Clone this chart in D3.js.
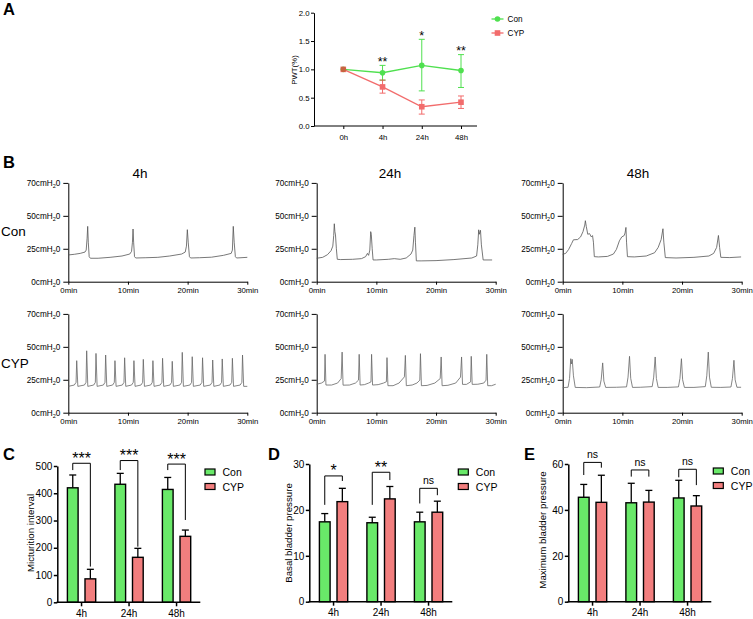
<!DOCTYPE html>
<html><head><meta charset="utf-8">
<script src="https://cdn.jsdelivr.net/npm/d3@7"></script>
<style>body{margin:0;background:#fff} svg{display:block} text{fill:#000}</style>
</head><body><svg id="chart" width="753" height="619"></svg>
<script>
// ---------------- DATA ----------------
// Panel A: PWT (%)
const pwtTimes = ["0h","4h","24h","48h"];
const pwtTicks = [0,0.5,1.0,1.5,2.0];
const pwtCon   = [1.00,0.94,1.07,0.98];
const pwtConLo = [1.00,0.81,0.62,0.68];
const pwtConHi = [1.00,1.07,1.53,1.26];
const pwtCyp   = [1.00,0.69,0.34,0.42];
const pwtCypLo = [1.00,0.58,0.21,0.31];
const pwtCypHi = [1.00,0.81,0.46,0.53];
const pwtSig   = ["","**","*","**"];

// Panel B: cystometry traces [minute, cmH2O]
const traceTitles = ["4h","24h","48h"];
const traceRows = ["Con","CYP"];
const traceTicks = [0,25,50,75];
const traceTickLabels = ["0","25","50","70"];
const traceTimeTicks = [0,10,20,30];
const traceCon4h = [[0,20.3],[1,20.8],[2,21.5],[2.8,22.5],[3.0,24],[3.15,33],[3.25,42],[3.35,30],[3.5,19],[3.7,17.8],[5,17.8],[7,18.5],[9,19.5],[10.3,21],[10.6,23],[10.75,30],[10.85,40],[10.95,30],[11.1,19],[11.3,18],[13,18.2],[15,18.5],[17,19.5],[19,21],[19.6,22.5],[19.8,27],[19.95,39.5],[20.1,30],[20.3,19],[20.5,18],[22,18.2],[24,18.6],[26,20],[27.3,21.5],[27.5,24],[27.65,42],[27.8,30],[28.0,19],[28.2,18],[30,18.5]];
const traceCon24h = [[0,17.8],[1,18.5],[1.8,20.5],[2.4,23.5],[2.7,27],[2.85,35],[2.95,44],[3.05,38],[3.15,35.5],[3.3,25],[3.45,17],[4,16.8],[6,17],[7.5,17.5],[8.2,19],[8.5,21.5],[8.7,20],[8.9,24],[9.05,38],[9.15,36],[9.3,25],[9.45,16.5],[10,16.5],[12,17],[13,17.5],[14,17],[15,18],[15.8,21],[16.1,24],[16.3,35],[16.45,41.4],[16.55,30],[16.7,15.8],[17.5,15.8],[20,16],[23,16.8],[26,18],[26.8,19.5],[27.0,28],[27.15,39.4],[27.25,36],[27.45,39],[27.6,28],[27.9,16.5],[29.4,16.5]];
const traceCon48h = [[0,20.8],[0.5,21.5],[1.0,24.5],[1.5,29],[1.8,31.8],[2.5,32],[3.0,34],[3.4,38],[3.7,43],[3.8,46.3],[3.95,42],[4.2,36],[4.5,36.5],[4.8,34],[5.0,35],[5.15,30],[5.3,19],[6,18.8],[7.5,19.2],[8.5,21],[9.0,24.5],[9.5,31],[9.9,34],[10.3,35],[10.45,37],[10.6,41.2],[10.7,30],[10.85,19],[12,18.8],[14,19.5],[15.4,22],[16,26],[16.5,32],[16.8,40.2],[16.95,30],[17.2,18.3],[19,18],[22,18.5],[24.5,19.5],[25.3,21.5],[25.8,26],[26.1,35.1],[26.3,26],[26.5,18.5],[28,18.3],[29.9,18.8]];
const traceCyp4h = [[0,20],[1.0,21],[1.3,23],[1.41,39.5],[1.6,20],[2.7,21],[2.97,23],[3.08,47],[3.27,20],[4.25,21],[4.53,23],[4.64,45],[4.83,20],[5.87,21],[6.15,23],[6.26,43.8],[6.45,20],[7.43,21],[7.71,23],[7.82,39.5],[8.01,20],[9.05,21],[9.33,23],[9.44,41.7],[9.63,20],[10.6,21],[10.89,23],[11.0,39.5],[11.19,20],[12.18,21],[12.46,23],[12.57,40.5],[12.76,20],[13.8,21],[14.07,23],[14.18,39.5],[14.37,20],[15.4,21],[15.69,23],[15.8,41.3],[15.99,20],[17.03,21],[17.31,23],[17.42,39],[17.61,20],[18.7,21],[18.99,23],[19.1,45.8],[19.29,20],[20.38,21],[20.66,23],[20.77,42.5],[20.96,20],[22.1,21],[22.39,23],[22.5,41.7],[22.69,20],[23.8,21],[24.09,23],[24.2,40],[24.39,20],[25.4,21],[25.69,23],[25.8,40.8],[25.99,20],[27.1,21],[27.39,23],[27.5,41.3],[27.69,20],[28.8,21],[29.09,23],[29.2,43.8],[29.39,20],[30,20]];
const traceCyp24h = [[0,21.6],[0.8,22.5],[1.3,24],[1.4,44.3],[1.55,21],[2.5,21],[3.5,22.5],[4.1,25.9],[4.26,46],[4.42,20.9],[5.5,21],[6.5,22.5],[7.0,24.7],[7.12,44.3],[7.28,21],[8.0,21.3],[8.7,22.5],[9.1,23.4],[9.2,44.3],[9.36,21],[10.3,21.3],[11.2,22.5],[11.68,23.5],[11.78,41.8],[11.94,20.5],[12.8,20.5],[13.8,22.5],[14.7,27.2],[14.86,43.5],[15.02,20.5],[16.0,21],[16.8,22.5],[17.28,24.7],[17.39,44.8],[17.55,20.5],[18.5,20.7],[19.8,22.5],[20.7,25.9],[20.86,42.3],[21.02,20.5],[22.0,20.8],[23.3,22.5],[24.1,27],[24.28,42.3],[24.44,21.5],[25.1,21.5],[25.8,23.4],[25.9,42.8],[26.06,21.5],[27.0,21.6],[28.0,22.5],[28.38,24.7],[28.5,44.3],[28.66,20.5],[29.3,20.5],[30,21.6]];
const traceCyp48h = [[0,19],[0.9,19.3],[1.15,26],[1.35,41],[1.45,37],[1.6,40.5],[1.8,28],[2.1,19.2],[4,19],[6.2,19.5],[6.45,25],[6.7,37.8],[6.9,24],[7.2,19.2],[9,19.3],[10.7,19.6],[10.95,27],[11.2,42.8],[11.4,26],[11.7,19.2],[13,19.3],[15.0,19.8],[15.25,27],[15.5,42.3],[15.7,26],[16.0,19.2],[17.5,19.2],[19.4,19.6],[19.65,26],[19.9,41],[20.1,25],[20.4,19.2],[22,19.2],[23.9,19.8],[24.15,28],[24.4,46],[24.6,27],[24.9,19.3],[26.5,19.2],[28.2,19.5],[28.45,26],[28.7,39.8],[28.9,25],[29.2,19.3],[29.9,19.3]];

// Panels C-E: bar charts
const barGroups = ["4h","24h","48h"];
const barSeries = ["Con","CYP"];
const intervalCon = [420,433,414];
const intervalConErr = [47,40,44];
const intervalCyp = [86,165,242];
const intervalCypErr = [35,33,23];
const intervalTicks = [0,100,200,300,400,500];
const intervalBrTop = [510,520,507];
const intervalBrLeft = [485,485,485];
const intervalBrRight = [131,204,302];
const intervalSig = ["***","***","***"];

const basalCon = [17.4,17.2,17.4];
const basalConErr = [1.8,1.2,2.1];
const basalCyp = [21.8,22.4,19.5];
const basalCypErr = [2.9,2.7,2.4];
const basalTicks = [0,10,20,30];
const basalBrTop = [27.4,28.2,24.7];
const basalBrLeft = [21.1,21.1,21.4];
const basalBrRight = [26.3,26.5,23.2];
const basalSig = ["*","**","ns"];

const maxCon = [45.5,43.1,45.2];
const maxConErr = [5.6,8.5,7.7];
const maxCyp = [43.3,43.4,41.7];
const maxCypErr = [11.8,5.1,4.5];
const maxTicks = [0,20,40,60];
const maxBrTop = [60.7,57.4,57.7];
const maxBrLeft = [55.2,54.5,54.2];
const maxBrRight = [58.4,54.5,50.8];
const maxSig = ["ns","ns","ns"];

// ---------------- STYLE ----------------
const FONT = '"Liberation Sans", Arial, Helvetica, sans-serif';
const GREEN_LINE = "#4fe04f", RED_LINE = "#ee3b3b";
const GREEN_BAR = "#69e969", RED_BAR = "#f27e7e";
const svg = d3.select("#chart").attr("font-family", FONT);

// panel letters
[["A",3,15],["B",3,168],["C",3,460],["D",268,460],["E",524,460]].forEach(([t,x,y]) => {
  svg.append("text").attr("x",x).attr("y",y).attr("font-size",16.5).attr("font-weight","bold").text(t);
});

function styleAxis(g, fs) {
  g.attr("font-size", fs).attr("font-family", FONT);
  g.selectAll("path,line").attr("stroke","#000");
  g.selectAll("text").attr("fill","#000");
}

// ---------------- PANEL A ----------------
(function(){
  const g = svg.append("g");
  const y = d3.scaleLinear([0,2],[126,12.7]);
  const x = d3.scalePoint(pwtTimes,[343.3,461]);
  g.append("g").attr("transform","translate(314,0)")
    .call(d3.axisLeft(y).tickValues(pwtTicks).tickFormat(d3.format(".1f")).tickSize(3).tickPadding(1.5).tickSizeOuter(0))
    .call(a => styleAxis(a, 7.8));
  const xa = g.append("g").attr("transform","translate(0,126)")
    .call(d3.axisBottom(x).tickSize(3).tickPadding(5))
    .call(a => styleAxis(a, 7.8));
  xa.select(".domain").remove();
  g.append("line").attr("x1",314).attr("x2",477).attr("y1",126).attr("y2",126).attr("stroke","#000");
  g.append("text").attr("transform","translate(294,70) rotate(-90)").attr("text-anchor","middle")
    .attr("dominant-baseline","central").attr("font-size",7.8).text("PWT(%)");

  const series = [
    {vals:pwtCon, lo:pwtConLo, hi:pwtConHi, color:GREEN_LINE, shape:"circle", op:1},
    {vals:pwtCyp, lo:pwtCypLo, hi:pwtCypHi, color:RED_LINE, shape:"square", op:0.75}
  ];
  const line = d3.line().x((d,i)=>x(pwtTimes[i])).y(d=>y(d));
  series.forEach(s => {
    const sg = g.append("g").attr("opacity", s.op);
    sg.append("path").datum(s.vals).attr("d", line).attr("fill","none").attr("stroke", s.color).attr("stroke-width",1.3);
    s.vals.forEach((v,i) => {
      if (s.hi[i] === s.lo[i]) return;
      const cx = x(pwtTimes[i]);
      sg.append("line").attr("x1",cx).attr("x2",cx).attr("y1",y(s.lo[i])).attr("y2",y(s.hi[i])).attr("stroke",s.color).attr("stroke-width",1);
      [s.lo[i], s.hi[i]].forEach(e => sg.append("line").attr("x1",cx-3).attr("x2",cx+3).attr("y1",y(e)).attr("y2",y(e)).attr("stroke",s.color).attr("stroke-width",1));
    });
    s.vals.forEach((v,i) => {
      const cx = x(pwtTimes[i]), cy = y(v);
      if (s.shape === "circle") sg.append("circle").attr("cx",cx).attr("cy",cy).attr("r",2.8).attr("fill",s.color);
      else sg.append("rect").attr("x",cx-2.8).attr("y",cy-2.8).attr("width",5.6).attr("height",5.6).attr("fill",s.color);
    });
  });
  pwtSig.forEach((t,i) => {
    if (!t) return;
    g.append("text").attr("x", x(pwtTimes[i])).attr("y", y(pwtConHi[i]) + 0.5).attr("text-anchor","middle")
      .attr("font-size",12.5).text(t);
  });
  // legend
  [["Con",GREEN_LINE,"circle",19,1],["CYP",RED_LINE,"square",33,0.75]].forEach(([name,c,shape,ly,op]) => {
    const lg = g.append("g").attr("opacity",op);
    lg.append("line").attr("x1",491.5).attr("x2",503.5).attr("y1",ly).attr("y2",ly).attr("stroke",c).attr("stroke-width",1.3);
    if (shape === "circle") lg.append("circle").attr("cx",497.5).attr("cy",ly).attr("r",2.8).attr("fill",c);
    else lg.append("rect").attr("x",494.7).attr("y",ly-2.8).attr("width",5.6).attr("height",5.6).attr("fill",c);
    g.append("text").attr("x",507.5).attr("y",ly).attr("dominant-baseline","central").attr("font-size",8.2).text(name);
  });
})();

// ---------------- PANEL B ----------------
(function(){
  const colX = [68.3, 316.7, 562.7];
  const rowY0 = [281.7, 412.7];
  const titleX = [140, 390, 638];
  const rowLabelY = [231.7, 363.3];
  const traces = [[traceCon4h, traceCon24h, traceCon48h],[traceCyp4h, traceCyp24h, traceCyp48h]];
  traceTitles.forEach((t,ci) => svg.append("text").attr("x",titleX[ci]).attr("y",178).attr("text-anchor","middle").attr("font-size",13.5).text(t));
  traceRows.forEach((r,ri) => svg.append("text").attr("x",1).attr("y",rowLabelY[ri]).attr("dominant-baseline","central").attr("font-size",13.5).text(r));
  traceRows.forEach((r,ri) => {
    traceTitles.forEach((t,ci) => {
      const x0 = colX[ci], y0 = rowY0[ri];
      const x = d3.scaleLinear([0,30],[x0, x0+179]);
      const y = d3.scaleLinear([0,75],[y0, y0-98.8]);
      const g = svg.append("g");
      const ya = g.append("g").attr("transform",`translate(${x0},0)`)
        .call(d3.axisLeft(y).tickValues(traceTicks).tickSize(5).tickPadding(3).tickSizeOuter(0))
        .call(a => styleAxis(a, 8.2));
      ya.selectAll(".tick text").each(function(d,i){
        const tx = d3.select(this); tx.text(null);
        tx.append("tspan").text(traceTickLabels[i] + "cmH");
        tx.append("tspan").attr("font-size",5.5).attr("dy",2).text("2");
        tx.append("tspan").attr("dy",-2).text("0");
      });
      g.append("g").attr("transform",`translate(0,${y0})`)
        .call(d3.axisBottom(x).tickValues(traceTimeTicks).tickFormat(d => d + "min").tickSize(3).tickPadding(3).tickSizeOuter(0))
        .call(a => styleAxis(a, 7.8));
      g.append("path").datum(traces[ri][ci])
        .attr("d", d3.line().x(d=>x(d[0])).y(d=>y(d[1])))
        .attr("fill","none").attr("stroke", ri===0 ? "#555" : "#666").attr("stroke-width",0.8);
    });
  });
})();

// ---------------- PANELS C-E ----------------
function barPanel(cfg) {
  const g = svg.append("g");
  const y = d3.scaleLinear([0, cfg.max], [cfg.y0, cfg.yTop]);
  const x0 = d3.scaleBand(barGroups, [cfg.ax + 0.5, cfg.ax + 143]);
  const x1 = d3.scaleBand(barSeries, [-14.15, 14.15]).paddingInner(0.392);
  const colors = [GREEN_BAR, RED_BAR];
  const cxOf = (gi, si) => x0(barGroups[gi]) + x0.bandwidth()/2 + x1(barSeries[si]) + x1.bandwidth()/2;
  // y axis
  g.append("g").attr("transform",`translate(${cfg.ax},0)`)
    .call(d3.axisLeft(y).tickValues(cfg.ticks).tickSize(3.5).tickPadding(1.5).tickSizeOuter(0))
    .call(a => { styleAxis(a, 10); a.selectAll("path,line").attr("stroke-width",1.5); });
  // bars
  barSeries.forEach((s, si) => {
    barGroups.forEach((gn, gi) => {
      const v = cfg.vals[si][gi], e = cfg.errs[si][gi];
      const cx = cxOf(gi, si), bw = x1.bandwidth();
      g.append("line").attr("x1",cx).attr("x2",cx).attr("y1",y(v)).attr("y2",y(v+e)).attr("stroke","#000").attr("stroke-width",1.3);
      g.append("line").attr("x1",cx-3.5).attr("x2",cx+3.5).attr("y1",y(v+e)).attr("y2",y(v+e)).attr("stroke","#000").attr("stroke-width",1.3);
      g.append("rect").attr("x",cx-bw/2).attr("y",y(v)).attr("width",bw).attr("height",cfg.y0 - y(v))
        .attr("fill",colors[si]).attr("stroke","#000").attr("stroke-width",1.4);
    });
  });
  // x axis
  const xa = g.append("g").attr("transform",`translate(0,${cfg.y0})`)
    .call(d3.axisBottom(x0).tickSize(4).tickPadding(3.5))
    .call(a => { styleAxis(a, 10); a.selectAll("line").attr("stroke-width",1.5); });
  xa.select(".domain").remove();
  g.append("line").attr("x1",cfg.ax-0.75).attr("x2",cfg.ax+143).attr("y1",cfg.y0).attr("y2",cfg.y0).attr("stroke","#000").attr("stroke-width",1.5);
  // y label
  g.append("text").attr("transform",`translate(${cfg.labelX},${cfg.labelY}) rotate(-90)`).attr("text-anchor","middle")
    .attr("dominant-baseline","central").attr("font-size",9.7).text(cfg.label);
  // brackets
  barGroups.forEach((gn, gi) => {
    const xl = cxOf(gi,0), xr = cxOf(gi,1), yt = y(cfg.brTop[gi]);
    g.append("path").attr("d",`M${xl},${y(cfg.brLeft[gi])}V${yt}H${xr}V${y(cfg.brRight[gi])}`)
      .attr("fill","none").attr("stroke","#000").attr("stroke-width",1);
    const lab = cfg.sig[gi];
    const isStar = lab.indexOf("*") >= 0;
    g.append("text").attr("x",(xl+xr)/2).attr("y", isStar ? yt + 0.5 : yt - 4)
      .attr("text-anchor","middle").attr("font-size", isStar ? 16 : 10.5).text(lab);
  });
  // legend
  barSeries.forEach((s, si) => {
    const ly = cfg.legY + si*14.5;
    g.append("rect").attr("x",cfg.legX).attr("y",ly-3).attr("width",10).attr("height",6)
      .attr("fill",colors[si]).attr("stroke","#000").attr("stroke-width",1.2);
    g.append("text").attr("x",cfg.legX+17.5).attr("y",ly).attr("dominant-baseline","central").attr("font-size",10.5).text(s);
  });
}

barPanel({ax:57.3, y0:602.3, yTop:466, max:500, ticks:intervalTicks,
  vals:[intervalCon, intervalCyp], errs:[intervalConErr, intervalCypErr],
  brTop:intervalBrTop, brLeft:intervalBrLeft, brRight:intervalBrRight, sig:intervalSig,
  label:"Micturition interval", labelX:30.7, labelY:533, legX:205, legY:472});
barPanel({ax:309.3, y0:601.7, yTop:464, max:30, ticks:basalTicks,
  vals:[basalCon, basalCyp], errs:[basalConErr, basalCypErr],
  brTop:basalBrTop, brLeft:basalBrLeft, brRight:basalBrRight, sig:basalSig,
  label:"Basal bladder pressure", labelX:288.3, labelY:533, legX:458.3, legY:472});
barPanel({ax:568.3, y0:601.7, yTop:464, max:60, ticks:maxTicks,
  vals:[maxCon, maxCyp], errs:[maxConErr, maxCypErr],
  brTop:maxBrTop, brLeft:maxBrLeft, brRight:maxBrRight, sig:maxSig,
  label:"Maximum bladder pressure", labelX:542.7, labelY:530, legX:713.3, legY:471});
</script>
</body></html>
